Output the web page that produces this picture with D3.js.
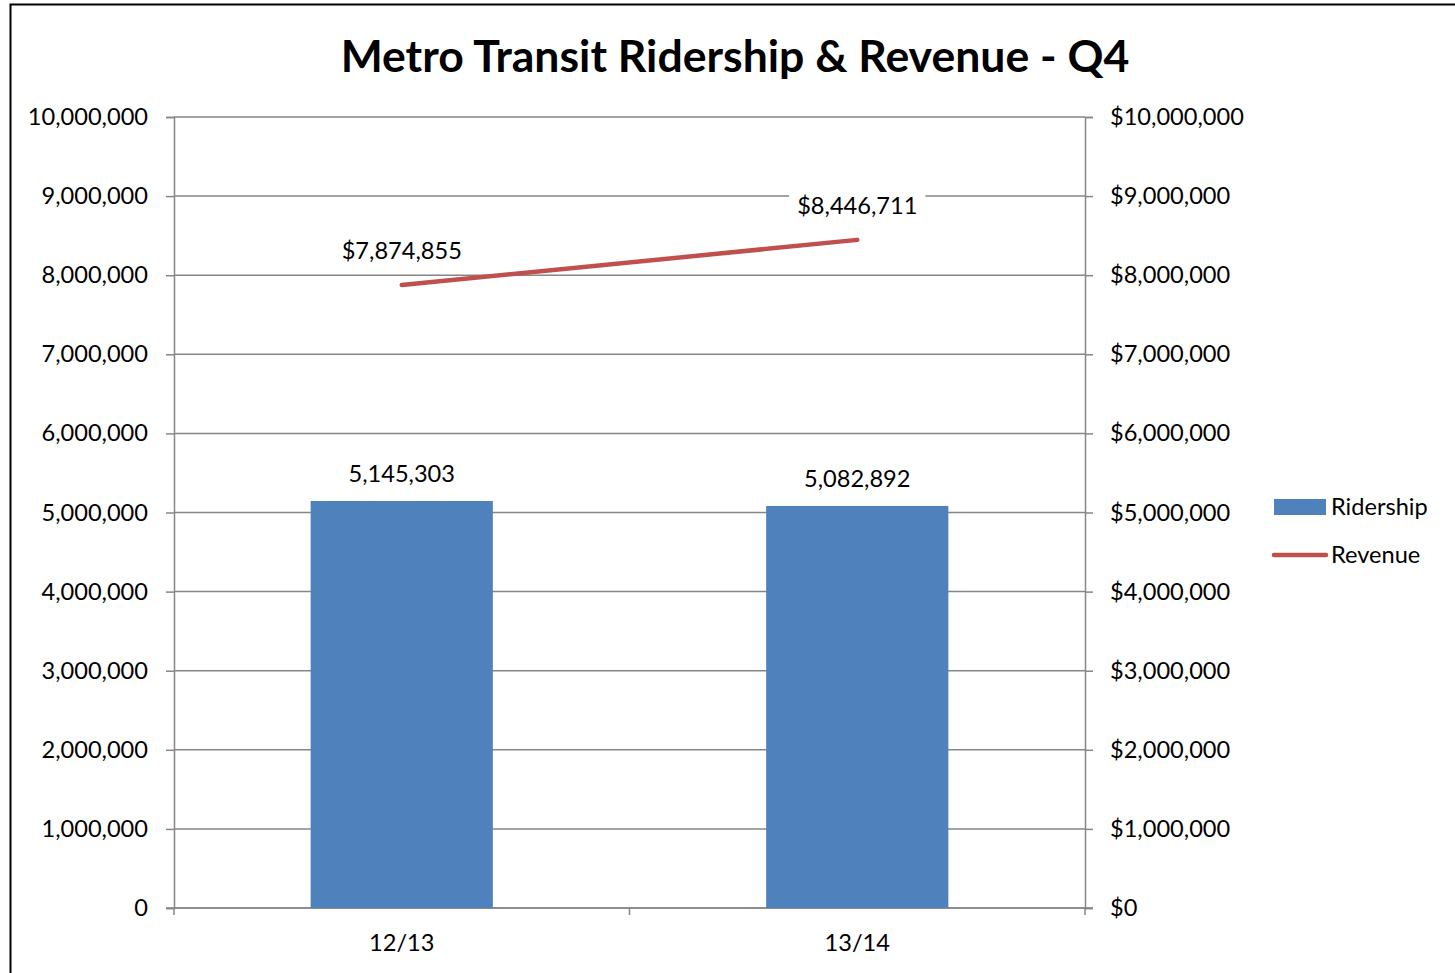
<!DOCTYPE html>
<html><head><meta charset="utf-8">
<script src="https://cdn.jsdelivr.net/npm/d3@7"></script>
<style>body{margin:0;background:#fff}svg{display:block}</style>
</head><body>
<script>
const categories = ["12/13", "13/14"];
const ridership = [5145303, 5082892];
const revenue = [7874855, 8446711];
const leftTicks = [0,1000000,2000000,3000000,4000000,5000000,6000000,7000000,8000000,9000000,10000000];
const rightTicks = [0,1000000,2000000,3000000,4000000,5000000,6000000,7000000,8000000,9000000,10000000];
const title = "Metro Transit Ridership & Revenue - Q4";
const seriesNames = ["Ridership", "Revenue"];

const W = 1455, H = 973;
const font = "Lato, 'Open Sans', sans-serif";
const fs = 23.6;
const m = {left:174, right:1085, top:117, bottom:908};
const blue = "#4F81BD", red = "#C0504D", grid = "#868686";

const svg = d3.select("body").append("svg").attr("width", W).attr("height", H);
svg.append("rect").attr("x",10.5).attr("y",4.5).attr("width",W+10).attr("height",H+10)
  .attr("fill","#fff").attr("stroke","#000").attr("stroke-width",2);

const x = d3.scaleBand().domain(categories).range([m.left, m.right]).paddingInner(0.6).paddingOuter(0.3);
const xb = d3.scaleBand().domain(categories).range([m.left, m.right]);
const yL = d3.scaleLinear().domain([0,10000000]).range([m.bottom, m.top]);
const yR = d3.scaleLinear().domain([0,10000000]).range([m.bottom, m.top]);
const fmt = d3.format(",");
const fmtD = v => "$" + d3.format(",")(v);

// gridlines
svg.append("g").selectAll("line").data(leftTicks).join("line")
  .attr("x1", m.left).attr("x2", m.right)
  .attr("y1", d => yL(d)).attr("y2", d => yL(d))
  .attr("stroke", grid).attr("stroke-width", 1.5);

const gL = svg.append("g").attr("transform", `translate(${m.left},0)`)
  .call(d3.axisLeft(yL).tickValues(leftTicks).tickFormat(fmt).tickSize(8).tickPadding(18));
const gR = svg.append("g").attr("transform", `translate(${m.right},0)`)
  .call(d3.axisRight(yR).tickValues(rightTicks).tickFormat(fmtD).tickSize(8).tickPadding(17));

svg.append("g").selectAll("line").data([m.left, xb(categories[1]), m.right]).join("line")
  .attr("x1", d=>d).attr("x2", d=>d).attr("y1", m.bottom).attr("y2", m.bottom+7)
  .attr("stroke", grid).attr("stroke-width", 1.5);
svg.append("g").selectAll("text").data(categories).join("text")
  .attr("x", d => xb(d) + xb.bandwidth()/2).attr("y", m.bottom + 35).attr("dy","0.35em")
  .attr("text-anchor","middle").attr("font-family",font).attr("font-size",fs).attr("fill","#000")
  .text(d=>d);

[gL, gR].forEach(g => {
  g.selectAll(".domain").attr("stroke", grid).attr("stroke-width", 1.5);
  g.selectAll(".tick line").attr("stroke", grid).attr("stroke-width", 1.5);
  g.selectAll(".tick text").attr("font-family", font).attr("font-size", fs).attr("fill", "#000");
});
svg.append("line").attr("x1", m.left-8).attr("x2", m.right+8).attr("y1", m.bottom).attr("y2", m.bottom)
  .attr("stroke", grid).attr("stroke-width", 1.5);

// bars
svg.append("g").selectAll("rect").data(categories).join("rect")
  .attr("x", d => x(d)).attr("width", x.bandwidth())
  .attr("y", (d,i) => yL(ridership[i])).attr("height", (d,i) => m.bottom - yL(ridership[i]))
  .attr("fill", blue);

svg.append("g").selectAll("text").data(categories).join("text")
  .attr("x", d => xb(d) + xb.bandwidth()/2).attr("y", (d,i) => yL(ridership[i]) - 19)
  .attr("text-anchor","middle").attr("font-family",font).attr("font-size",fs).attr("fill","#000")
  .text((d,i)=>fmt(ridership[i]));

// revenue line
const cx = d => xb(d) + xb.bandwidth()/2;
svg.append("path").datum(categories)
  .attr("d", d3.line().x(d=>cx(d)).y((d,i)=>yR(revenue[i])))
  .attr("fill","none").attr("stroke", red).attr("stroke-width", 4.5).attr("stroke-linecap","round");

const rl = svg.append("g").selectAll("g").data(categories).join("g");
rl.each(function(d,i){
  const g = d3.select(this);
  const t = g.append("text").attr("x", cx(d)).attr("y", yR(revenue[i]) - 26)
    .attr("text-anchor","middle").attr("font-family",font).attr("font-size",fs).attr("fill","#000")
    .text(fmtD(revenue[i]));
  const bb = t.node().getBBox();
  g.insert("rect","text").attr("x", bb.x-8).attr("y", bb.y-2).attr("width", bb.width+16).attr("height", bb.height+4).attr("fill","#fff");
});

// title
const tt = svg.append("text").attr("x", 735).attr("y", 72).attr("text-anchor","middle")
  .attr("font-family",font).attr("font-weight","bold").attr("font-size",40).attr("fill","#000").text(title);
const tw = tt.node().getComputedTextLength();
tt.attr("font-size", 40 * 789 / tw);

// legend
const lg = svg.append("g");
lg.append("rect").attr("x",1274).attr("y",499).attr("width",52).attr("height",16).attr("fill",blue);
lg.append("line").attr("x1",1274).attr("x2",1326).attr("y1",555).attr("y2",555)
  .attr("stroke",red).attr("stroke-width",4.5).attr("stroke-linecap","round");
lg.selectAll("text").data(seriesNames).join("text")
  .attr("x",1331).attr("y",(d,i)=>507+i*48).attr("dy","0.35em")
  .attr("font-family",font).attr("font-size",fs).attr("fill","#000").text(d=>d);
</script>
</body></html>
